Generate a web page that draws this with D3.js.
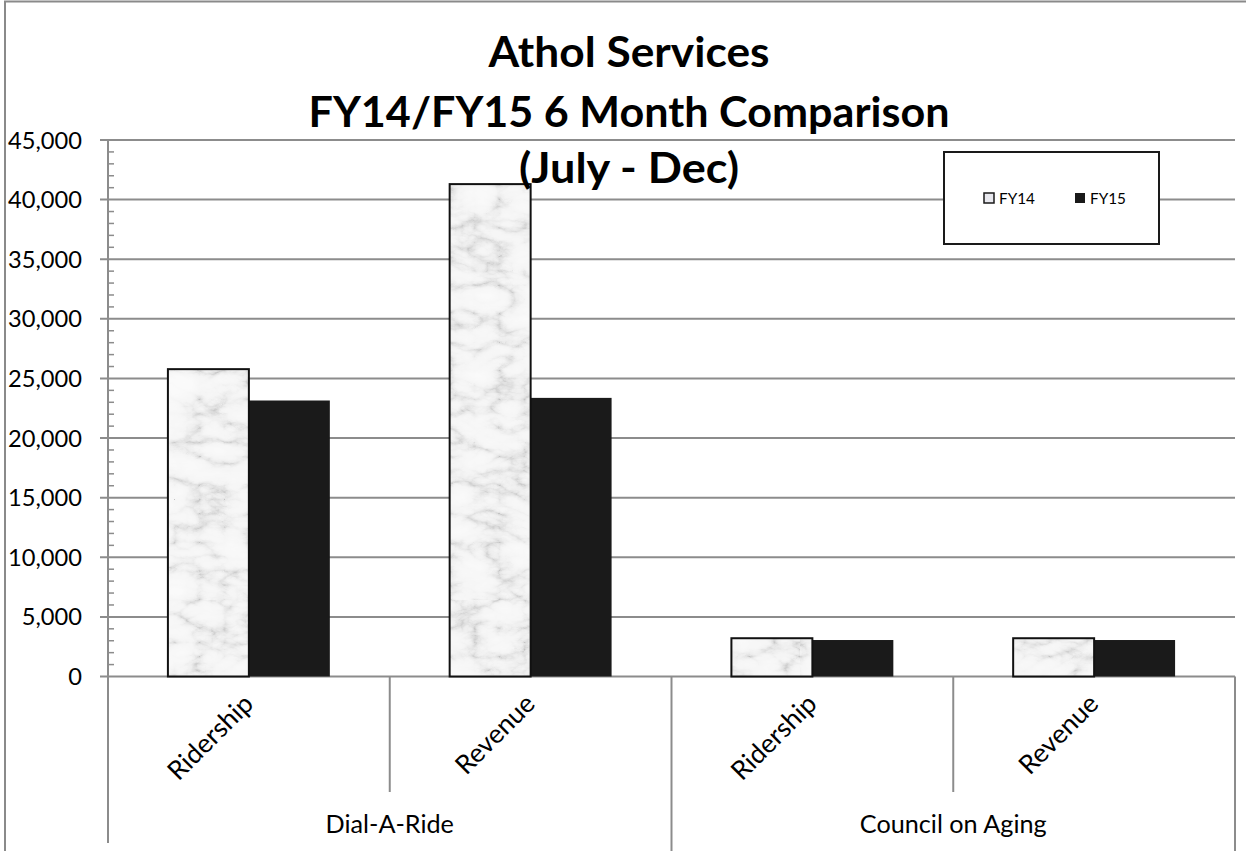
<!DOCTYPE html>
<html>
<head>
<meta charset="utf-8">
<script src="https://cdn.jsdelivr.net/npm/d3@7"></script>
<style>
  html, body { margin: 0; padding: 0; background: #fff; }
  svg { display: block; }
  text { font-family: "Lato", "Open Sans", sans-serif; fill: #000; }
</style>
</head>
<body>
<svg id="chart" width="1246" height="851"></svg>
<script>
// ---- data ----
const groups = ["Dial-A-Ride", "Council on Aging"];
const categories = ["Ridership", "Revenue", "Ridership", "Revenue"];
const categoryGroup = [0, 0, 1, 1];
const seriesNames = ["FY14", "FY15"];
const fy14 = [25780, 41300, 3210, 3210];
const fy15 = [23150, 23370, 3060, 3060];
const yTicks = [0, 5000, 10000, 15000, 20000, 25000, 30000, 35000, 40000, 45000];
const titleLines = ["Athol Services", "FY14/FY15 6 Month Comparison", "(July - Dec)"];

// ---- layout ----
const W = 1246, H = 851;
const plot = { left: 108, right: 1235, top: 140, bottom: 676.5 };
const svg = d3.select("#chart");
const gridColor = "#8c8c8c";

function fitFont(sel, target, base) {
  sel.style("font-size", base + "px");
  const w = sel.node().getComputedTextLength();
  const fs = base * target / w;
  sel.style("font-size", fs + "px");
  return fs;
}

// ---- defs: marble pattern ----
const defs = svg.append("defs");
const filt = defs.append("filter").attr("id", "marbleF")
  .attr("filterUnits", "userSpaceOnUse").attr("x", 0).attr("y", 0).attr("width", 400).attr("height", 600);
filt.append("feTurbulence").attr("type", "turbulence").attr("baseFrequency", "0.02 0.035")
  .attr("numOctaves", 5).attr("seed", 7).attr("result", "t");
filt.append("feColorMatrix").attr("in", "t").attr("type", "matrix")
  .attr("values", "1 0 0 0 0  1 0 0 0 0  1 0 0 0 0  0 0 0 0 1").attr("result", "g");
const ct = filt.append("feComponentTransfer").attr("in", "g");
["feFuncR", "feFuncG", "feFuncB"].forEach(f =>
  ct.append(f).attr("type", "table").attr("tableValues", "0.55 0.75 0.86 0.91 0.93 0.94 0.95 0.96 0.96 0.97"));
const pat = defs.append("pattern").attr("id", "marble").attr("patternUnits", "userSpaceOnUse")
  .attr("width", 400).attr("height", 600);
pat.append("rect").attr("width", 400).attr("height", 600).attr("fill", "#fff").attr("filter", "url(#marbleF)");

// ---- outer border ----
svg.append("rect").attr("x", 5).attr("y", 1.5).attr("width", W + 20).attr("height", H + 20)
  .attr("fill", "#fff").attr("stroke", "#8a8a8a").attr("stroke-width", 2);

// ---- scales ----
const y = d3.scaleLinear().domain([0, 45000]).range([plot.bottom, plot.top]);
const x0 = d3.scaleBand().domain(d3.range(categories.length)).range([plot.left, plot.right]).padding(0);
const x1 = d3.scaleBand().domain(seriesNames).range([0, x0.bandwidth()]).paddingInner(0).paddingOuter(0.74);

// ---- gridlines ----
svg.append("g").selectAll("line").data(yTicks).join("line")
  .attr("x1", plot.left - 8).attr("x2", plot.right)
  .attr("y1", d => y(d)).attr("y2", d => y(d))
  .attr("stroke", gridColor).attr("stroke-width", 2);

const minor = d3.range(0, 45001, 1000).filter(v => v % 5000 !== 0);
svg.append("g").selectAll("line").data(minor).join("line")
  .attr("x1", plot.left).attr("x2", plot.left + 6)
  .attr("y1", d => y(d)).attr("y2", d => y(d))
  .attr("stroke", gridColor).attr("stroke-width", 1.5);

svg.append("line").attr("x1", plot.left).attr("x2", plot.left)
  .attr("y1", plot.top).attr("y2", 843).attr("stroke", gridColor).attr("stroke-width", 2);

const yl = svg.append("g").selectAll("text").data(yTicks).join("text")
  .attr("x", 82).attr("y", d => y(d)).attr("dy", "0.36em").attr("text-anchor", "end")
  .text(d => d3.format(",")(d));
const yfs = fitFont(yl.filter(d => d === 45000), 74, 20);
yl.style("font-size", yfs + "px");

// ---- category separators ----
const bounds = d3.range(categories.length + 1).map(i => i < categories.length ? x0(i) : plot.right);
svg.append("g").selectAll("line").data(bounds).join("line")
  .attr("x1", d => d).attr("x2", d => d)
  .attr("y1", plot.bottom)
  .attr("y2", (d, i) => (i === 1 || i === 3) ? 792 : (i === 0 ? 843 : H))
  .attr("stroke", gridColor).attr("stroke-width", 2);

// ---- bars ----
const barData = [];
categories.forEach((c, i) => {
  barData.push({ i, s: "FY14", v: fy14[i] });
  barData.push({ i, s: "FY15", v: fy15[i] });
});
svg.append("g").selectAll("rect").data(barData.filter(d => d.s === "FY15")).join("rect")
  .attr("x", d => x0(d.i) + x1(d.s)).attr("width", x1.bandwidth())
  .attr("y", d => y(d.v)).attr("height", d => y(0) - y(d.v))
  .attr("fill", "#1a1a1a");
svg.append("g").selectAll("rect").data(barData.filter(d => d.s === "FY14")).join("rect")
  .attr("x", d => x0(d.i) + x1(d.s)).attr("width", x1.bandwidth())
  .attr("y", d => y(d.v)).attr("height", d => y(0) - y(d.v))
  .attr("fill", "url(#marble)").attr("stroke", "#111").attr("stroke-width", 2);

// ---- category labels (rotated) ----
const cl = svg.append("g").selectAll("text").data(categories).join("text")
  .attr("text-anchor", "end")
  .attr("transform", (d, i) => `translate(${x0(i) + x0.bandwidth() / 2 + 6},${plot.bottom + 29}) rotate(-45)`)
  .text(d => d);
const cfs = fitFont(cl.filter((d, i) => i === 0), 108, 20);
cl.style("font-size", cfs + "px");

const gl = svg.append("g").selectAll("text").data(groups).join("text")
  .attr("text-anchor", "middle")
  .attr("x", (d, gi) => {
    const idx = categoryGroup.map((g, i) => g === gi ? i : -1).filter(i => i >= 0);
    return (x0(idx[0]) + x0(idx[idx.length - 1]) + x0.bandwidth()) / 2;
  })
  .attr("y", 833).text(d => d);
const gfs = fitFont(gl.filter((d, i) => i === 1), 187, 18);
gl.style("font-size", gfs + "px");

// ---- title ----
const titleBaselines = [67, 127, 183];
const titleWidths = [281, 641, 220];
svg.append("g").selectAll("text").data(titleLines).join("text")
  .attr("text-anchor", "middle").attr("x", 629)
  .attr("y", (d, i) => titleBaselines[i])
  .attr("textLength", (d, i) => titleWidths[i]).attr("lengthAdjust", "spacingAndGlyphs")
  .style("font-weight", "bold").style("font-size", "42px")
  .text(d => d);

// ---- legend ----
const lg = svg.append("g");
lg.append("rect").attr("x", 944).attr("y", 152).attr("width", 215).attr("height", 92)
  .attr("fill", "#fff").attr("stroke", "#1a1a1a").attr("stroke-width", 2);
const legendX = [984, 1075];
const li = lg.selectAll("g.item").data(seriesNames).join("g").attr("class", "item")
  .attr("transform", (d, i) => `translate(${legendX[i]},193)`);
li.append("rect").attr("width", 10).attr("height", 10)
  .attr("fill", (d, i) => i === 0 ? "#e8e8ee" : "#1a1a1a")
  .attr("stroke", (d, i) => i === 0 ? "#1a1a1a" : "none").attr("stroke-width", 1.5);
const lt = li.append("text").attr("x", 15).attr("y", 5).attr("dy", "0.36em").text(d => d);
const lfs = fitFont(lt.filter((d, i) => i === 0), 36, 15);
lt.style("font-size", lfs + "px");
</script>
</body>
</html>
